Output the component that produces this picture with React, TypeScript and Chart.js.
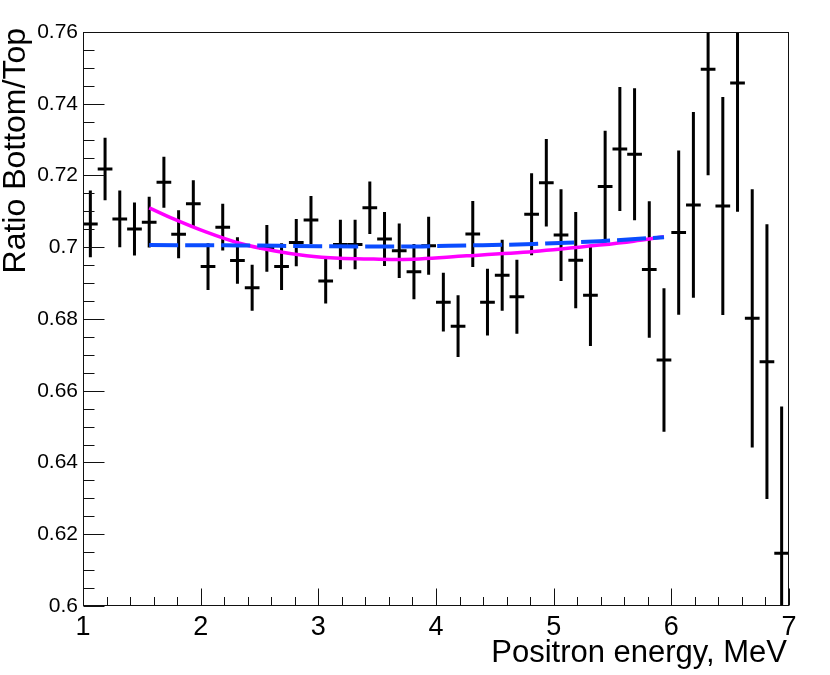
import React, { useEffect, useRef } from 'react';
import { Chart, registerables } from 'chart.js';

Chart.register(...registerables);

// bin centres, MeV (bin width 0.125)
const binCenters = [
  1.0625, 1.1875, 1.3125, 1.4375, 1.5625, 1.6875, 1.8125, 1.9375,
  2.0625, 2.1875, 2.3125, 2.4375, 2.5625, 2.6875, 2.8125, 2.9375,
  3.0625, 3.1875, 3.3125, 3.4375, 3.5625, 3.6875, 3.8125, 3.9375,
  4.0625, 4.1875, 4.3125, 4.4375, 4.5625, 4.6875, 4.8125, 4.9375,
  5.0625, 5.1875, 5.3125, 5.4375, 5.5625, 5.6875, 5.8125, 5.9375,
  6.0625, 6.1875, 6.3125, 6.4375, 6.5625, 6.6875, 6.8125, 6.9375,
];
const binHalfWidth = 0.0625;

const ratios = [
  0.7065, 0.7218, 0.7079, 0.7051, 0.7070, 0.7181, 0.7036, 0.7121,
  0.6946, 0.7056, 0.6963, 0.6887, 0.6997, 0.6946, 0.7013, 0.7076,
  0.6906, 0.7008, 0.7008, 0.7110, 0.7023, 0.6990, 0.6932, 0.7004,
  0.6847, 0.6780, 0.7037, 0.6847, 0.6922, 0.6862, 0.7092, 0.7180,
  0.7034, 0.6964, 0.6866, 0.7169, 0.7274, 0.7259, 0.6938, 0.6686,
  0.7041, 0.7118, 0.7496, 0.7115, 0.7458, 0.6802, 0.6681, 0.6147,
];
const ratioErrors = [
  0.0093, 0.0087, 0.0079, 0.0074, 0.0071, 0.0071, 0.0067, 0.0066,
  0.0065, 0.0065, 0.0065, 0.0064, 0.0065, 0.0065, 0.0066, 0.0067,
  0.0063, 0.0069, 0.0069, 0.0073, 0.0075, 0.0076, 0.0077, 0.0081,
  0.0082, 0.0086, 0.0092, 0.0093, 0.0099, 0.0103, 0.0114, 0.0122,
  0.0128, 0.0134, 0.0141, 0.0156, 0.0173, 0.0184, 0.0190, 0.0200,
  0.0229, 0.0259, 0.0295, 0.0304, 0.0359, 0.0360, 0.0383, 0.0409,
];

// fitted curves
const pinkFitE = [1.5625, 1.77, 2.05, 2.33, 2.62, 2.9, 3.18, 3.47, 3.69, 4.26, 4.83, 5.39, 5.68, 5.9375];
const pinkFitRatio = [0.711, 0.7079, 0.7042, 0.7011, 0.699, 0.6976, 0.6969, 0.6967, 0.6966, 0.6976, 0.6988, 0.7006, 0.7017, 0.7029];
const blueFitE = [1.5625, 2.33, 3.0, 3.7, 4.26, 4.83, 5.39, 5.9375];
const blueFitRatio = [0.7006, 0.7005, 0.7003, 0.7002, 0.7005, 0.7009, 0.7017, 0.7028];

const xTickValues = [1, 2, 3, 4, 5, 6, 7];
const yTickValues = [0.6, 0.62, 0.64, 0.66, 0.68, 0.7, 0.72, 0.74, 0.76];

const FONT = '"Liberation Sans", Arial, Helvetica, sans-serif';

const rootLook = {
  id: 'rootLook',
  beforeDatasetsDraw(chart: any) {
    const { ctx, chartArea: a, scales } = chart;
    const x = scales.x;
    const y = scales.y;
    ctx.save();
    ctx.beginPath();
    ctx.rect(a.left, a.top, a.right - a.left, a.bottom - a.top);
    ctx.clip();
    ctx.strokeStyle = '#000';
    ctx.lineWidth = 3;
    const pts = chart.data.datasets[2].data;
    pts.forEach((p: any, i: number) => {
      const px = x.getPixelForValue(p.x);
      const py = y.getPixelForValue(p.y);
      ctx.beginPath();
      ctx.moveTo(px, y.getPixelForValue(p.y - ratioErrors[i]));
      ctx.lineTo(px, y.getPixelForValue(p.y + ratioErrors[i]));
      ctx.moveTo(x.getPixelForValue(p.x - binHalfWidth), py);
      ctx.lineTo(x.getPixelForValue(p.x + binHalfWidth), py);
      ctx.stroke();
    });
    ctx.restore();
  },
  afterDraw(chart: any) {
    const { ctx, chartArea: a, scales } = chart;
    const x = scales.x;
    const y = scales.y;
    const L = Math.round(a.left) + 0.5;
    const R = Math.round(a.right) - 0.5;
    const T = Math.round(a.top) + 0.5;
    const B = Math.round(a.bottom) - 0.5;
    ctx.save();
    ctx.strokeStyle = '#111';
    ctx.lineWidth = 1;
    ctx.strokeRect(L, T, R - L, B - T);

    ctx.beginPath();
    // y ticks, inside the frame
    for (let v = 0.6; v <= 0.7601; v += 0.005) {
      const py = Math.round(y.getPixelForValue(v)) + 0.5;
      const major = Math.abs(v * 50 - Math.round(v * 50)) < 1e-6;
      ctx.moveTo(L, py);
      ctx.lineTo(L + (major ? 21 : 11), py);
    }
    // x ticks
    for (let v = 1; v <= 7.0001; v += 0.2) {
      const px = Math.round(x.getPixelForValue(v)) + 0.5;
      const major = Math.abs(v - Math.round(v)) < 1e-6;
      ctx.moveTo(px, B);
      ctx.lineTo(px, B - (major ? 17 : 8.5));
    }
    ctx.stroke();

    ctx.fillStyle = '#000';
    ctx.font = `31px ${FONT}`;
    ctx.textAlign = 'right';
    ctx.textBaseline = 'alphabetic';
    ctx.fillText('Positron energy, MeV', 787, 662);

    ctx.translate(25, 28);
    ctx.rotate(-Math.PI / 2);
    ctx.font = `32px ${FONT}`;
    ctx.textAlign = 'right';
    ctx.fillText('Ratio Bottom/Top', 0, 0);
    ctx.restore();
  },
};

const RatioChart: React.FC = () => {
  const canvasRef = useRef<HTMLCanvasElement>(null);
  const chartRef = useRef<Chart | null>(null);

  useEffect(() => {
    document.body.style.margin = '0';
    if (!canvasRef.current) return;
    const ctx = canvasRef.current.getContext('2d');
    if (!ctx) return;
    if (chartRef.current) chartRef.current.destroy();

    chartRef.current = new Chart(ctx, {
      type: 'scatter',
      data: {
        datasets: [
          {
            label: 'blue fit',
            data: blueFitE.map((e, i) => ({ x: e, y: blueFitRatio[i] })),
            showLine: true,
            borderColor: '#0a4cff',
            borderWidth: 4,
            borderDash: [29, 7],
            pointRadius: 0,
            cubicInterpolationMode: 'monotone',
            fill: false,
          },
          {
            label: 'pink fit',
            data: pinkFitE.map((e, i) => ({ x: e, y: pinkFitRatio[i] })),
            showLine: true,
            borderColor: '#ff00ff',
            borderWidth: 3.5,
            pointRadius: 0,
            cubicInterpolationMode: 'monotone',
            fill: false,
          },
          {
            label: 'ratio',
            data: binCenters.map((e, i) => ({ x: e, y: ratios[i] })),
            showLine: false,
            pointRadius: 0,
            pointHoverRadius: 0,
          },
        ],
      },
      options: {
        responsive: true,
        maintainAspectRatio: false,
        animation: false,
        events: [],
        layout: { padding: { left: 0, top: 32, right: 41, bottom: 0 } },
        plugins: { legend: { display: false }, tooltip: { enabled: false } },
        scales: {
          x: {
            type: 'linear',
            min: 1,
            max: 7,
            grid: { display: false, drawTicks: false },
            border: { display: false },
            afterBuildTicks: (s: any) => {
              s.ticks = xTickValues.map((v) => ({ value: v }));
            },
            afterFit: (s: any) => {
              s.height = 69;
            },
            ticks: {
              color: '#000',
              padding: 5,
              maxRotation: 0,
              autoSkip: false,
              font: { family: FONT, size: 27, lineHeight: 1.2 },
              callback: (v: any) => String(v),
            },
          },
          y: {
            type: 'linear',
            min: 0.6,
            max: 0.76,
            grid: { display: false, drawTicks: false },
            border: { display: false },
            afterBuildTicks: (s: any) => {
              s.ticks = yTickValues.map((v) => ({ value: v }));
            },
            afterFit: (s: any) => {
              s.width = 83;
            },
            ticks: {
              color: '#000',
              padding: 5,
              autoSkip: false,
              font: { family: FONT, size: 21 },
              callback: (v: any) => String(Number(Number(v).toFixed(2))),
            },
          },
        },
      },
      plugins: [rootLook],
    });

    return () => chartRef.current?.destroy();
  }, []);

  return (
    <div style={{ width: 830, height: 675, position: 'relative', background: '#fff' }}>
      <canvas ref={canvasRef}></canvas>
    </div>
  );
};

export default function App() {
  return <RatioChart />;
}
